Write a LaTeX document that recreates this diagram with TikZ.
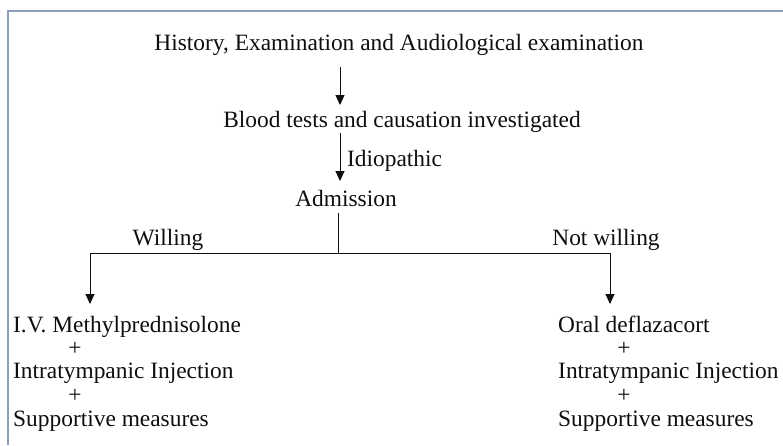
\documentclass[tikz,border=0pt]{standalone}
\usepackage{fontspec}
\setmainfont{Liberation Serif}
\usetikzlibrary{arrows.meta}
\definecolor{framecol}{RGB}{140,158,186}
\definecolor{ink}{RGB}{15,15,15}
\begin{document}
\begin{tikzpicture}[x=1pt,y=-1pt,
  txt/.style={inner sep=0pt,anchor=base,text=ink,font=\fontsize{23.4}{24}\selectfont},
  ltxt/.style={txt,anchor=base west},
  conn/.style={draw=ink,line width=1pt},
  arr/.style={conn,-{Triangle[width=9pt,length=10pt]}}]
\useasboundingbox (0,0) rectangle (783,445);
\fill[white] (0,0) rectangle (783,445);
\draw[framecol,line width=1.6pt] (8,445) -- (8,11) -- (783,11);

\node[txt] (title) at (399,50) {History, Examination and Audiological examination};
\node[txt] (blood) at (402,127) {Blood tests and causation investigated};
\node[ltxt] (idio) at (347,166) {Idiopathic};
\node[txt] (adm) at (346,206) {Admission};
\node[txt] (will) at (168,245) {Willing};
\node[txt] (notw) at (606,245) {Not willing};

\node[ltxt] (l1) at (13,332) {I.V. Methylprednisolone};
\node[txt] (lp1) at (75,355) {+};
\node[ltxt] (l2) at (13,378) {Intratympanic Injection};
\node[txt] (lp2) at (75,402) {+};
\node[ltxt] (l3) at (13,426) {Supportive measures};

\node[ltxt] (r1) at (558,332) {Oral deflazacort};
\node[txt] (rp1) at (624,355) {+};
\node[ltxt] (r2) at (558,378) {Intratympanic Injection};
\node[txt] (rp2) at (624,402) {+};
\node[ltxt] (r3) at (558,426) {Supportive measures};

\coordinate (a1s) at (340,67);
\coordinate (a1e) at (340,105);
\coordinate (a2s) at (340,133);
\coordinate (a2e) at (340,181);
\coordinate (bs) at (338,213);
\coordinate (bj) at (338,253);
\coordinate (lj) at (90,253);
\coordinate (rj) at (610,253);
\coordinate (le) at (90,304);
\coordinate (re) at (610,304);

\draw[arr] (a1s) -- (a1e);
\draw[arr] (a2s) -- (a2e);
\draw[conn] (bs) -- (bj);
\draw[conn] (lj) -- (rj);
\draw[arr] (lj) -- (le);
\draw[arr] (rj) -- (re);
\end{tikzpicture}
\end{document}
